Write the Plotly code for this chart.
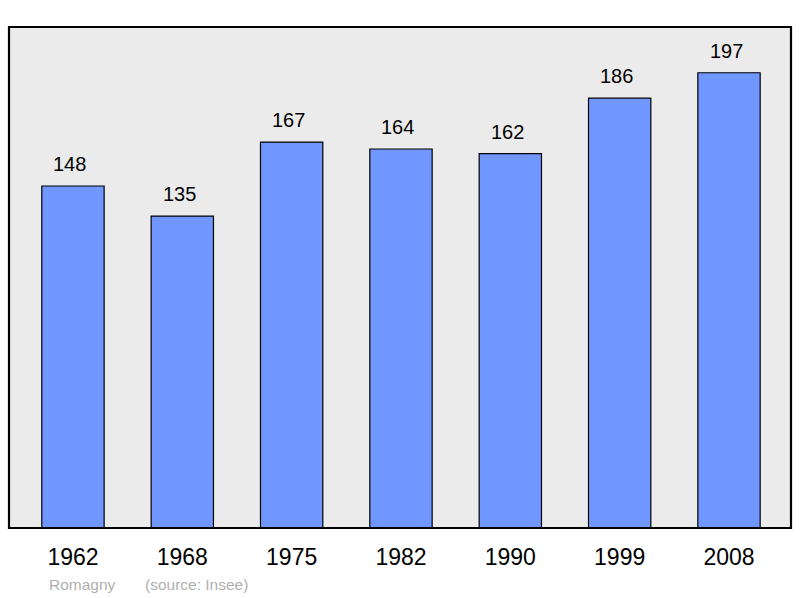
import plotly.graph_objects as go

years = ["1962", "1968", "1975", "1982", "1990", "1999", "2008"]
population = [148, 135, 167, 164, 162, 186, 197]
commune = "Romagny"
source = "(source: Insee)"

fig = go.Figure()
fig.add_trace(go.Bar(
    x=years, y=population,
    width=0.57,
    marker=dict(color="#7096ff", line=dict(color="#000000", width=1.2)),
    hoverinfo="skip",
))
for i, v in enumerate(population):
    fig.add_annotation(x=i, y=v, text=str(v), showarrow=False, yshift=22, xshift=-3,
                       font=dict(family="Liberation Sans, Arial", size=20, color="#000"))

fig.add_annotation(xref="paper", yref="paper", x=0.048, y=-0.112, xanchor="left", yanchor="middle",
                   text=commune, showarrow=False,
                   font=dict(family="Liberation Sans, Arial", size=15.5, color="#b0b0b0"))
fig.add_annotation(xref="paper", yref="paper", x=0.171, y=-0.112, xanchor="left", yanchor="middle",
                   text=source, showarrow=False,
                   font=dict(family="Liberation Sans, Arial", size=15.5, color="#b0b0b0"))

fig.add_shape(type="rect", xref="paper", yref="paper", x0=0, y0=0, x1=1, y1=1,
              line=dict(color="#000", width=2.2), layer="above")

fig.update_layout(
    width=800, height=598,
    margin=dict(l=9, r=9, t=27, b=70),
    paper_bgcolor="#ffffff", plot_bgcolor="#ebebeb",
    showlegend=False,
    xaxis=dict(type="category", range=[-0.585, 6.567], showgrid=False, zeroline=False,
               ticks="", tickfont=dict(family="Liberation Sans, Arial", size=23, color="#000"),
               ticklabelstandoff=13),
    yaxis=dict(range=[0, 216.8], showgrid=False, zeroline=False, showticklabels=False, ticks=""),
)
fig.write_html("out.html", config={"displayModeBar": False},
               post_script="document.body.style.margin='0';")
